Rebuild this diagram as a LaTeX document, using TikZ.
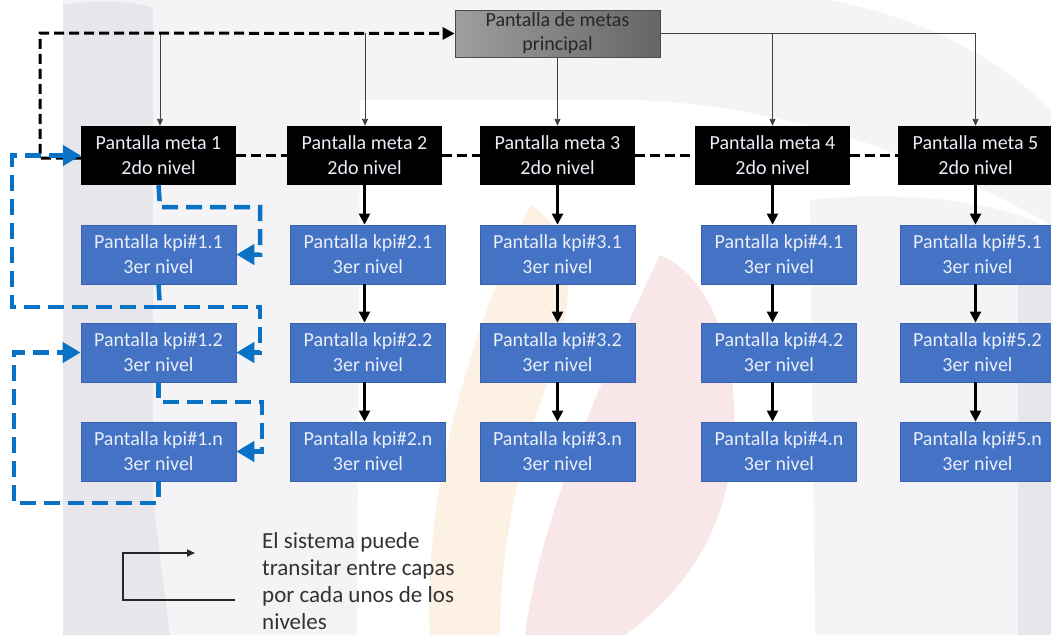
\documentclass[tikz,border=0pt]{standalone}
\usepackage{fontspec}
\setmainfont{Carlito}
\usetikzlibrary{arrows.meta,positioning}
\definecolor{kpiblue}{HTML}{4472C4}
\definecolor{kpiedge}{HTML}{3A62A8}
\definecolor{linkblue}{HTML}{0A72C4}
\definecolor{boxtext}{HTML}{E9EEF7}
\definecolor{wmgrey}{HTML}{E6E6EB}
\definecolor{wmlight}{HTML}{F4F4F7}
\definecolor{wmorange}{HTML}{FDF1E4}
\definecolor{wmpink}{HTML}{F9E6E8}
\tikzset{
  box/.style={minimum width=155pt,minimum height=59pt,inner sep=0pt,align=center,
    font=\fontsize{20}{25}\selectfont},
  metabox/.style={box,fill=black,text=boxtext},
  kpibox/.style={box,fill=kpiblue,draw=kpiedge,line width=0.8pt,text=boxtext},
  mainbox/.style={minimum width=205pt,minimum height=47pt,inner sep=0pt,align=center,
    draw=black!70,line width=0.8pt,left color=black!38,right color=black!60,text=black!85,
    font=\fontsize{20}{24}\selectfont},
  thin/.style={draw=black!75,line width=0.9pt,-{Triangle[length=7pt,width=6pt]}},
  thinline/.style={draw=black!75,line width=0.9pt},
  down/.style={draw=black,line width=2.4pt,-{Triangle[length=11pt,width=11pt]}},
  blackdash/.style={draw=black,line width=3pt,dash pattern=on 10pt off 5pt},
  bluedash/.style={draw=linkblue,line width=4.5pt,dash pattern=on 16pt off 8pt},
  bluearrow/.style={bluedash,-{Triangle[length=18pt,width=20pt]}},
  legendtext/.style={align=left,anchor=north west,inner sep=0pt,text=black!80,
    font=\fontsize{23}{27}\selectfont}
}
\begin{document}
\begin{tikzpicture}[x=1pt,y=-1pt]
\useasboundingbox (0,0) rectangle (1051,635);
\fill[white] (0,0) rectangle (1051,635);

% faint background watermark
\fill[wmlight] (63,0) -- (830,0) .. controls (930,20) and (1000,60) .. (1051,110)
  -- (1051,225) .. controls (920,150) and (760,100) .. (620,100)
  -- (360,100) -- (357,635) -- (63,635) -- cycle;
\fill[wmlight] (810,200) .. controls (900,190) and (1000,200) .. (1051,230) -- (1051,635) -- (815,635) -- cycle;
\fill[wmgrey] (63,5) .. controls (90,0) and (130,0) .. (153,8) -- (153,500) -- (170,635) -- (63,635) -- cycle;
\fill[wmgrey] (1018,280) -- (1051,280) -- (1051,635) -- (1018,635) -- cycle;
\fill[wmorange] (530,205) .. controls (575,230) and (580,300) .. (545,390)
  .. controls (515,470) and (500,560) .. (500,635) -- (430,635)
  .. controls (425,520) and (450,380) .. (530,205) -- cycle;
\fill[wmpink] (660,255) .. controls (720,280) and (745,380) .. (730,470)
  .. controls (715,560) and (660,610) .. (625,635) -- (525,635)
  .. controls (540,520) and (600,380) .. (660,255) -- cycle;

% main screen
\node[mainbox] (main) at (557.5,33.5) {Pantalla de metas\\principal};

% second level
\node[metabox] (m1) at (158.5,155.5) {Pantalla meta 1\\2do nivel};
\node[metabox] (m2) at (364.5,155.5) {Pantalla meta 2\\2do nivel};
\node[metabox] (m3) at (557.5,155.5) {Pantalla meta 3\\2do nivel};
\node[metabox] (m4) at (772.5,155.5) {Pantalla meta 4\\2do nivel};
\node[metabox] (m5) at (975.5,155.5) {Pantalla meta 5\\2do nivel};

% third level
\foreach \c/\x in {1/158.5,2/368,3/557.5,4/779,5/977.5}{
  \node[kpibox] (k\c1) at (\x,254.5) {Pantalla kpi\#\c.1\\3er nivel};
  \node[kpibox] (k\c2) at (\x,352.5) {Pantalla kpi\#\c.2\\3er nivel};
  \node[kpibox] (k\c3) at (\x,451.5) {Pantalla kpi\#\c.n\\3er nivel};
}

% links from the main screen
\coordinate (tl) at (40,33);
\coordinate (t1) at (160,33);
\coordinate (t2) at (365,33);
\draw[thin] (t1) -- (t1 |- m1.north);
\draw[thin] (t2) -- (t2 |- m2.north);
\draw[thin] (main.south) -- (main.south |- m3.north);
\draw[thinline] (main.east) -- (main.east -| m5.north);
\draw[thin] (main.east -| m4.north) -- (m4.north);
\draw[thin] (main.east -| m5.north) -- (m5.north);

% return path to the main screen
\draw[blackdash,-{Triangle[length=12pt,width=12pt]}] (m1.west |- 0,158) -- (40,158) -- (tl) -- (main.west);
\draw[blackdash] (m1.east) -- (m2.west);
\draw[blackdash] (m2.east) -- (m3.west);
\draw[blackdash] (m3.east) -- (m4.west);
\draw[blackdash] (m4.east) -- (m5.west);

% vertical descent per column
\foreach \c/\m in {2/m2,3/m3,4/m4,5/m5}{
  \draw[down] (\m.south) -- (\m.south |- k\c1.north);
  \draw[down] (\m.south |- k\c1.south) -- (\m.south |- k\c2.north);
  \draw[down] (\m.south |- k\c2.south) -- (\m.south |- k\c3.north);
}

% transitions inside column 1
\coordinate (b1) at (160,307);
\draw[bluearrow] (m1.south) -- (160,207) -- (260,207) -- (260,254.5) -- (k11.east);
\draw[bluedash] (k11.south) -- (b1);
\draw[bluearrow] (b1) -- (12,307) -- (12,155.5) -- (m1.west);
\draw[bluearrow] (b1) -- (260,307) -- (260,352.5) -- (k12.east);
\draw[bluearrow] (k12.south) -- (158.5,402) -- (262,402) -- (262,451.5) -- (k13.east);
\draw[bluearrow] (k13.south) -- (158.5,503) -- (14,503) -- (14,352.5) -- (k12.west);

% legend
\coordinate (la) at (235,600);
\coordinate (lb) at (123,553);
\coordinate (lc) at (195,553);
\draw[line width=1.6pt,black!85,-{Triangle[length=8pt,width=7pt]}] (la) -| (lb) -- (lc);
\node[legendtext] (legend) at (262,532) {El sistema puede\\transitar entre capas\\por cada unos de los\\niveles};
\end{tikzpicture}
\end{document}
